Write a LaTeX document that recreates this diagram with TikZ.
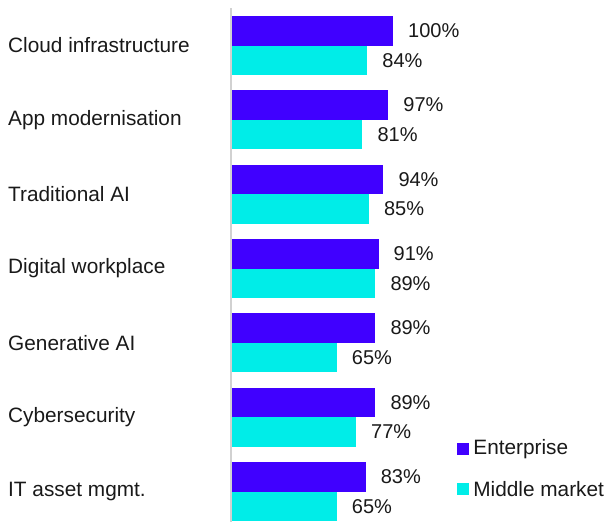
\documentclass[tikz,border=0pt]{standalone}
\usepackage{fontspec}
\setmainfont{Liberation Sans}
\usetikzlibrary{positioning}

\begin{document}
\begin{tikzpicture}[x=1pt,y=-1pt,
  bar/.style={anchor=north west,minimum height=29.5pt,inner sep=0pt,outer sep=0pt},
  ebar/.style={bar,fill=cent},
  mbar/.style={bar,fill=cmid},
  val/.style={anchor=west,inner sep=0pt,text=ctxt,font=\fontsize{20}{22}\selectfont},
  cat/.style={anchor=west,inner sep=0pt,text=ctxt,font=\fontsize{20.8}{23}\selectfont},
  key/.style={minimum size=12pt,inner sep=0pt}]
%
\useasboundingbox (0,0) rectangle (606,522);
%
\definecolor{cent}{rgb}{0.25,0.0,1.0}
\definecolor{cmid}{rgb}{0.0,0.93,0.91}
\definecolor{ctxt}{rgb}{0.1,0.1,0.1}
\definecolor{cax}{rgb}{0.82,0.82,0.82}
%
\coordinate (axtop) at (231,8);
\coordinate (axbot) at (231,522);
\draw[cax,line width=2pt] (axtop) -- (axbot);
%
\node[ebar,minimum width=161.0pt] (e1) at (232,16) {};
\node[mbar,minimum width=135.2pt] (m1) at (232,45.5) {};
\node[ebar,minimum width=156.2pt] (e2) at (232,90.3) {};
\node[mbar,minimum width=130.4pt] (m2) at (232,119.8) {};
\node[ebar,minimum width=151.3pt] (e3) at (232,164.7) {};
\node[mbar,minimum width=136.9pt] (m3) at (232,194.2) {};
\node[ebar,minimum width=146.5pt] (e4) at (232,239.0) {};
\node[mbar,minimum width=143.3pt] (m4) at (232,268.5) {};
\node[ebar,minimum width=143.3pt] (e5) at (232,313.3) {};
\node[mbar,minimum width=104.7pt] (m5) at (232,342.8) {};
\node[ebar,minimum width=143.3pt] (e6) at (232,387.7) {};
\node[mbar,minimum width=124.0pt] (m6) at (232,417.2) {};
\node[ebar,minimum width=133.6pt] (e7) at (232,462.0) {};
\node[mbar,minimum width=104.7pt] (m7) at (232,491.5) {};
%
\node[val,right=15pt of e1] (ve1) {100\%};
\node[val,right=15pt of m1] (vm1) {84\%};
\node[val,right=15pt of e2] (ve2) {97\%};
\node[val,right=15pt of m2] (vm2) {81\%};
\node[val,right=15pt of e3] (ve3) {94\%};
\node[val,right=15pt of m3] (vm3) {85\%};
\node[val,right=15pt of e4] (ve4) {91\%};
\node[val,right=15pt of m4] (vm4) {89\%};
\node[val,right=15pt of e5] (ve5) {89\%};
\node[val,right=15pt of m5] (vm5) {65\%};
\node[val,right=15pt of e6] (ve6) {89\%};
\node[val,right=15pt of m6] (vm6) {77\%};
\node[val,right=15pt of e7] (ve7) {83\%};
\node[val,right=15pt of m7] (vm7) {65\%};
%
\node[cat] (c1) at (8,45.5) {Cloud infrastructure};
\node[cat] (c2) at (8,119.8) {App modernisation};
\node[cat] (c3) at (8,194.2) {Traditional AI};
\node[cat] (c4) at (8,268.5) {Digital workplace};
\node[cat] (c5) at (8,342.8) {Generative AI};
\node[cat] (c6) at (8,417.2) {Cybersecurity};
\node[cat] (c7) at (8,491.5) {IT asset mgmt.};
%
\node[key,fill=cent] (k1) at (463,449) {};
\node[cat,right=4pt of k1] (l1) {Enterprise};
\node[key,fill=cmid] (k2) at (463,489) {};
\node[cat,right=4pt of k2] (l2) {Middle market};
%
\end{tikzpicture}
\end{document}
